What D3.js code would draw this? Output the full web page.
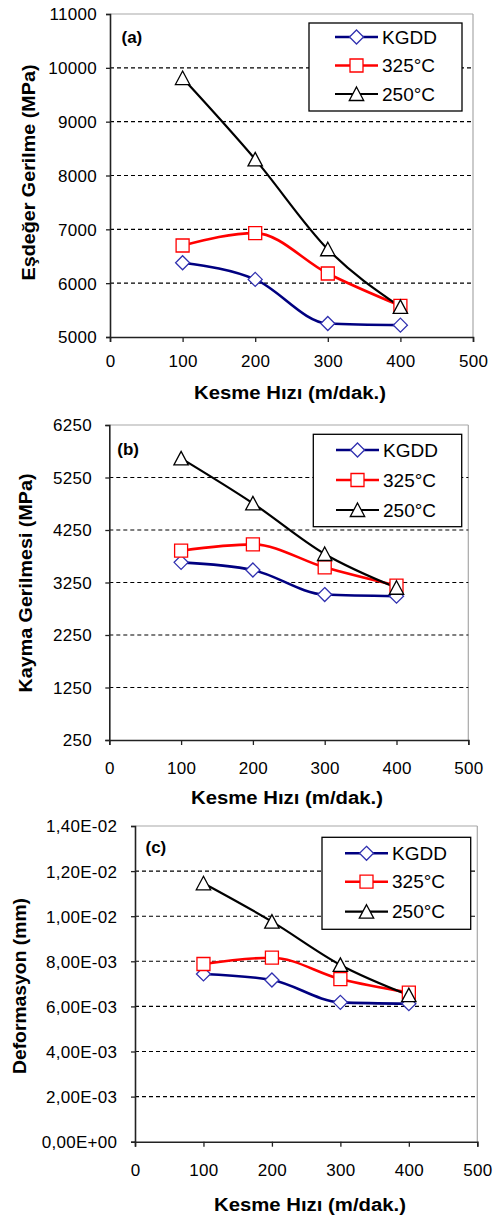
<!DOCTYPE html>
<html><head><meta charset="utf-8">
<script src="https://cdn.jsdelivr.net/npm/d3@7"></script>
<style>
body{margin:0;background:#fff}
svg{display:block}
text{font-family:"Liberation Sans",Arial,sans-serif;fill:#000}
</style></head>
<body><svg id="chart" width="494" height="1217"></svg>
<script>
// ---------- data ----------
const seriesNames = ["KGDD", "325°C", "250°C"];
const speeds = [100, 200, 300, 400];
const xTickValues = [0, 100, 200, 300, 400, 500];

const aKGDD = [6380, 6070, 5250, 5220];
const a325  = [6700, 6930, 6180, 5580];
const a250  = [9810, 8300, 6630, 5560];
const aYTicks = [5000, 6000, 7000, 8000, 9000, 10000, 11000];
const aYTickLabels = ["5000", "6000", "7000", "8000", "9000", "10000", "11000"];

const bKGDD = [3634, 3488, 3020, 2990];
const b325  = [3856, 3977, 3539, 3190];
const b250  = [5615, 4758, 3793, 3150];
const bYTicks = [250, 1250, 2250, 3250, 4250, 5250, 6250];
const bYTickLabels = ["250", "1250", "2250", "3250", "4250", "5250", "6250"];

const cKGDD = [0.00744, 0.00717, 0.00618, 0.00612];
const c325  = [0.00788, 0.00816, 0.00721, 0.00661];
const c250  = [0.01146, 0.00976, 0.00784, 0.00650];
const cYTicks = [0, 0.002, 0.004, 0.006, 0.008, 0.010, 0.012, 0.014];
const cYTickLabels = ["0,00E+00", "2,00E-03", "4,00E-03", "6,00E-03", "8,00E-03", "1,00E-02", "1,20E-02", "1,40E-02"];

// ---------- styles ----------
const lineColors = ["#000080", "#ff0000", "#000000"];
const markerStroke = ["#3030b0", "#ff0000", "#000000"];
const markerTypes = ["diamond", "square", "triangle"];

const svg = d3.select("#chart");

function markerPath(type) {
  if (type === "diamond") return "M0,-7L7,0L0,7L-7,0Z";
  if (type === "square") return "M-6.5,-6.5H6.5V6.5H-6.5Z";
  return "M0,-7L7.2,6.5H-7.2Z";
}

const panels = [
  { series: [aKGDD, a325, a250], yTicks: aYTicks, yLabels: aYTickLabels,
    left: 110, right: 473, top: 14, bottom: 337,
    yLabelRight: 97, xLabelDy: 24,
    yTitle: "Eşdeğer Gerilme (MPa)", yTitleX: 28.5, yTitleY: 172.5, yTitleLen: 216,
    xTitle: "Kesme Hızı (m/dak.)", xTitleX: 290, xTitleY: 393, xTitleLen: 192,
    tag: "(a)", tagX: 121.5, tagY: 37,
    leg: { x0: 309, y0: 23, x1: 462, y1: 111, rows: [37, 65.5, 94], lx0: 335, lx1: 378, tx: 382 } },
  { series: [bKGDD, b325, b250], yTicks: bYTicks, yLabels: bYTickLabels,
    left: 109.3, right: 468.3, top: 425, bottom: 740,
    yLabelRight: 92, xLabelDy: 28,
    yTitle: "Kayma Gerilmesi (MPa)", yTitleX: 26, yTitleY: 583, yTitleLen: 219,
    xTitle: "Kesme Hızı (m/dak.)", xTitleX: 287, xTitleY: 798, xTitleLen: 192,
    tag: "(b)", tagX: 117.3, tagY: 449,
    leg: { x0: 313.3, y0: 434.3, x1: 461.7, y1: 526.7, rows: [450, 480, 510], lx0: 336, lx1: 379, tx: 383 } },
  { series: [cKGDD, c325, c250], yTicks: cYTicks, yLabels: cYTickLabels,
    left: 135, right: 477.3, top: 826, bottom: 1141.7,
    yLabelRight: 117.3, xLabelDy: 28,
    yTitle: "Deformasyon (mm)", yTitleX: 19.3, yTitleY: 986, yTitleLen: 176,
    xTitle: "Kesme Hızı (m/dak.)", xTitleX: 310, xTitleY: 1205, xTitleLen: 192,
    tag: "(c)", tagX: 145.5, tagY: 846.7,
    leg: { x0: 322, y0: 837.3, x1: 470.7, y1: 929.3, rows: [853.3, 881.7, 911.7], lx0: 345, lx1: 388, tx: 392 } }
];

panels.forEach(p => {
  const x = d3.scaleLinear().domain([0, 500]).range([p.left, p.right]);
  const y = d3.scaleLinear().domain([p.yTicks[0], p.yTicks[p.yTicks.length - 1]]).range([p.bottom, p.top]);
  const g = svg.append("g");

  // top & right grey border
  g.append("line").attr("x1", p.left).attr("x2", p.right).attr("y1", p.top).attr("y2", p.top)
    .attr("stroke", "#a8a8a8").attr("stroke-width", 1.2);
  g.append("line").attr("x1", p.right).attr("x2", p.right).attr("y1", p.top).attr("y2", p.bottom)
    .attr("stroke", "#a8a8a8").attr("stroke-width", 1.2);

  // dashed gridlines (interior ticks)
  g.selectAll(".grid").data(p.yTicks.slice(1, -1)).join("line")
    .attr("x1", p.left).attr("x2", p.right)
    .attr("y1", d => y(d)).attr("y2", d => y(d))
    .attr("stroke", "#000").attr("stroke-width", 1.1).attr("stroke-dasharray", "4,3");

  // y axis
  const yAxis = d3.axisLeft(y).tickValues(p.yTicks).tickSize(4).tickFormat((d, i) => p.yLabels[i]);
  const ya = g.append("g").attr("transform", `translate(${p.left},0)`).call(yAxis);
  ya.select(".domain").attr("stroke", "#222").attr("stroke-width", 1.6);
  ya.selectAll(".tick line").attr("stroke", "#222").attr("stroke-width", 1.3);
  ya.selectAll(".tick text").attr("x", p.yLabelRight - p.left).attr("dy", "0.35em")
    .attr("font-size", 17).attr("letter-spacing", 0.3)
    .attr("font-family", "Liberation Sans, Arial, sans-serif").attr("fill", "#000");

  // x axis
  const xAxis = d3.axisBottom(x).tickValues(xTickValues).tickSize(5).tickFormat(d3.format("d"));
  const xa = g.append("g").attr("transform", `translate(0,${p.bottom})`).call(xAxis);
  xa.select(".domain").attr("stroke", "#222").attr("stroke-width", 1.6);
  xa.selectAll(".tick line").attr("stroke", "#222").attr("stroke-width", 1.3);
  xa.selectAll(".tick text").attr("y", p.xLabelDy).attr("dy", "0.35em")
    .attr("font-size", 17).attr("letter-spacing", 0.3)
    .attr("font-family", "Liberation Sans, Arial, sans-serif").attr("fill", "#000");

  // axis titles
  g.append("text").attr("transform", `translate(${p.yTitleX},${p.yTitleY}) rotate(-90)`)
    .attr("text-anchor", "middle").attr("dy", "0.35em")
    .attr("font-size", 18).attr("font-weight", "bold")
    .attr("textLength", p.yTitleLen).attr("lengthAdjust", "spacingAndGlyphs").text(p.yTitle);
  g.append("text").attr("x", p.xTitleX).attr("y", p.xTitleY).attr("dy", "0.35em")
    .attr("text-anchor", "middle").attr("font-size", 18).attr("font-weight", "bold")
    .attr("textLength", p.xTitleLen).attr("lengthAdjust", "spacingAndGlyphs").text(p.xTitle);

  // panel tag
  g.append("text").attr("x", p.tagX).attr("y", p.tagY).attr("dy", "0.35em")
    .attr("text-anchor", "start").attr("font-size", 17).attr("font-weight", "bold").text(p.tag);

  // series lines
  const line = d3.line().x((d, i) => x(speeds[i])).y(d => y(d)).curve(d3.curveMonotoneX);
  p.series.forEach((vals, si) => {
    g.append("path").datum(vals).attr("d", line).attr("fill", "none")
      .attr("stroke", lineColors[si]).attr("stroke-width", si === 2 ? 2.2 : 2.6);
  });
  p.series.forEach((vals, si) => {
    g.selectAll(".m" + si).data(vals).join("path")
      .attr("transform", (d, i) => `translate(${x(speeds[i])},${y(d)})`)
      .attr("d", markerPath(markerTypes[si])).attr("fill", "#fff")
      .attr("stroke", markerStroke[si]).attr("stroke-width", 1.3);
  });

  // legend
  const L = p.leg;
  g.append("rect").attr("x", L.x0).attr("y", L.y0).attr("width", L.x1 - L.x0).attr("height", L.y1 - L.y0)
    .attr("fill", "#fff").attr("stroke", "#000").attr("stroke-width", 1.3);
  seriesNames.forEach((name, si) => {
    const ry = L.rows[si];
    g.append("line").attr("x1", L.lx0).attr("x2", L.lx1).attr("y1", ry).attr("y2", ry)
      .attr("stroke", lineColors[si]).attr("stroke-width", si === 2 ? 2.2 : 2.6);
    g.append("path").attr("transform", `translate(${(L.lx0 + L.lx1) / 2},${ry})`)
      .attr("d", markerPath(markerTypes[si])).attr("fill", "#fff")
      .attr("stroke", markerStroke[si]).attr("stroke-width", 1.3);
    g.append("text").attr("x", L.tx).attr("y", ry).attr("dy", "0.35em")
      .attr("font-size", 19).text(name);
  });
});
</script>
</body></html>
